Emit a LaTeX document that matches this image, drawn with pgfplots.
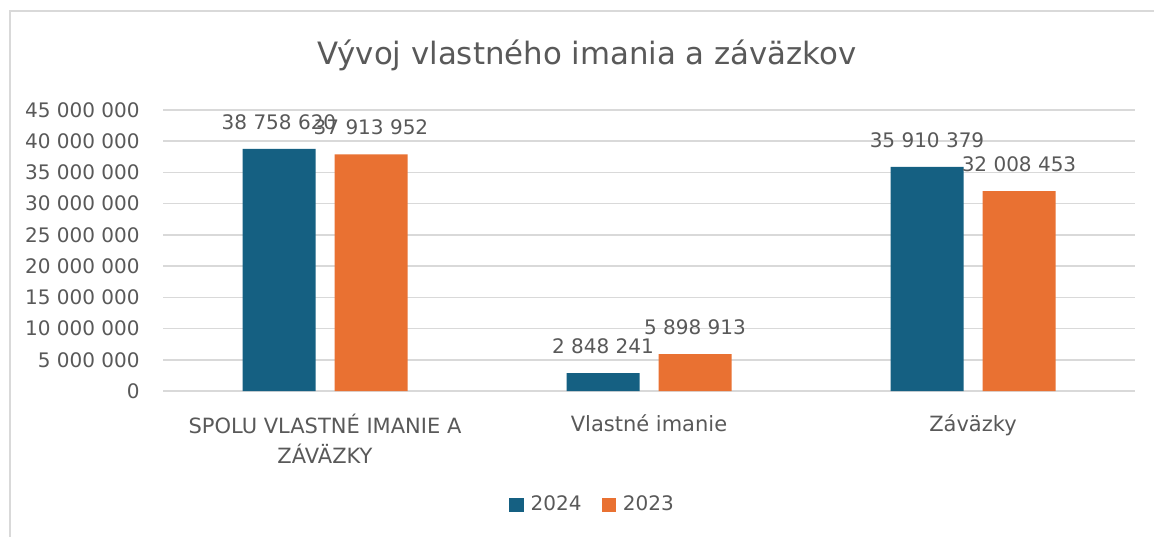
\documentclass[border=0pt]{standalone}
\usepackage{fontspec}
\setmainfont{DejaVu Sans}
\usepackage{pgfplots}
\pgfplotsset{compat=1.18}
\definecolor{c2024}{HTML}{156082}
\definecolor{c2023}{HTML}{E97132}
\definecolor{txt}{HTML}{595959}
\definecolor{gridc}{HTML}{D9D9D9}
\begin{document}
\begin{tikzpicture}
\useasboundingbox (0pt,0pt) rectangle (577pt,268pt);
\fill[white] (0pt,0pt) rectangle (577pt,268pt);
\draw[gridc, line width=0.8pt] (5pt,-2pt) -- (5pt,262.5pt) -- (580pt,262.5pt);
\node[anchor=base, text=txt, font=\fontsize{15.4}{18}\selectfont, inner sep=0pt] at (293.5pt,235.5pt) {Vývoj vlastného imania a záväzkov};
\begin{axis}[
  at={(81.5pt,72.5pt)}, anchor=south west,
  scale only axis, width=486pt, height=140.5pt,
  xmin=-0.5, xmax=2.5, ymin=0, ymax=45000000,
  ybar=9.5pt, bar width=36.5pt,
  axis line style={draw=none},
  major tick length=0pt,
  ymajorgrids, grid style={gridc, line width=0.8pt},
  xtick={0,1,2},
  xticklabels={{SPOLU VLASTNÉ IMANIE A\\ZÁVÄZKY},{Vlastné imanie},{Záväzky}},
  ytick={0,5000000,10000000,15000000,20000000,25000000,30000000,35000000,40000000,45000000},
  yticklabels={0,5 000 000,10 000 000,15 000 000,20 000 000,25 000 000,30 000 000,35 000 000,40 000 000,45 000 000},
  scaled y ticks=false,
  xticklabel style={anchor=north, inner sep=0pt, yshift=-11.5pt, align=center, text=txt, font=\fontsize{10.5}{14.6}\selectfont},
  yticklabel style={anchor=east, inner sep=0pt, xshift=-11.5pt, text=txt, font=\fontsize{10}{12}\selectfont},
  point meta=explicit symbolic,
  nodes near coords,
  nodes near coords style={anchor=south, inner sep=0pt, yshift=9.5pt, text=txt, font=\fontsize{10}{12}\selectfont},
  legend columns=2,
  legend style={at={(0.4430,-0.4057)}, anchor=center, draw=none, fill=none, inner sep=0pt,
    font=\fontsize{10}{12}\selectfont, text=txt,
    /tikz/every even column/.append style={column sep=8pt}},
  legend image code/.code={\path[#1] (0pt,-3.6pt) rectangle (7.2pt,3.6pt);},
]
\addplot[fill=c2024, draw=none] coordinates {(0,38758620) [38 758 620] (1,2848241) [2 848 241] (2,35910379) [35 910 379]};
\addplot[fill=c2023, draw=none] coordinates {(0,37913952) [37 913 952] (1,5898913) [5 898 913] (2,32008453) [32 008 453]};
\legend{\hspace{1.5pt}2024,\hspace{1.5pt}2023}
\end{axis}
\end{tikzpicture}
\end{document}
